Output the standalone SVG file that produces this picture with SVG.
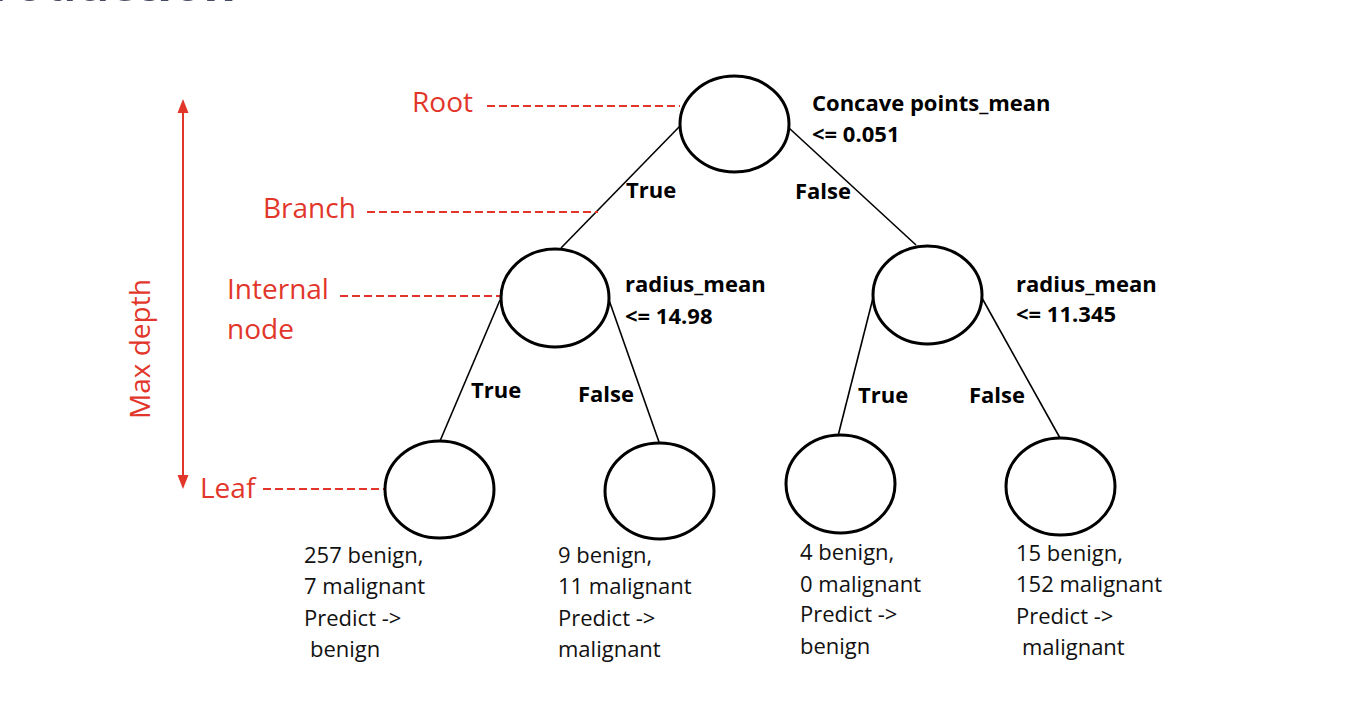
<svg xmlns="http://www.w3.org/2000/svg" width="1358" height="720" viewBox="0 0 1358 720">
<defs>
<style>
.node{fill:#ffffff;stroke:#000000;stroke-width:3}
.edge{stroke:#000000;stroke-width:1.6;fill:none}
.dash{stroke:#e2362b;stroke-width:1.8;stroke-dasharray:8 4;fill:none}
.red{font-family:"Open Sans","Noto Sans",sans-serif;font-size:28px;fill:#e2362b}
.bold{font-family:"Open Sans","Noto Sans",sans-serif;font-size:22px;font-weight:bold;fill:#000000}
.leaf{font-family:"Open Sans","Noto Sans",sans-serif;font-size:22px;fill:#111111}
.title{font-family:"Open Sans","Noto Sans",sans-serif;font-size:50px;font-weight:bold;fill:#474a63}
.head{fill:#e2362b}
</style>
</defs>
<rect width="1358" height="720" fill="#ffffff"/>
<text class="title" x="236" y="0.5" text-anchor="end">Introduction</text>

<g id="connectors">
<line class="edge" x1="680" y1="126" x2="561" y2="248"/>
<line class="edge" x1="789" y1="128" x2="916" y2="245"/>
<line class="edge" x1="500" y1="300" x2="440" y2="441"/>
<line class="edge" x1="609" y1="300" x2="659" y2="442"/>
<line class="edge" x1="873" y1="298" x2="838" y2="436"/>
<line class="edge" x1="982" y1="298" x2="1060" y2="438"/>
</g>

<g id="annotations">
<line x1="183" y1="110" x2="183" y2="478" stroke="#e2362b" stroke-width="2"/>
<polygon class="head" points="183,99 177.5,113 188.5,113"/>
<polygon class="head" points="183,489 177.5,475 188.5,475"/>
<text class="red" transform="translate(150,419) rotate(-90)">Max depth</text>
<text class="red" x="412" y="112">Root</text>
<line class="dash" x1="487" y1="106" x2="680" y2="106"/>
<text class="red" x="263" y="218">Branch</text>
<line class="dash" x1="367" y1="212" x2="598" y2="212"/>
<text class="red" x="227" y="299">Internal</text>
<text class="red" x="227" y="339">node</text>
<line class="dash" x1="340" y1="296" x2="500" y2="296"/>
<text class="red" x="200" y="498">Leaf</text>
<line class="dash" x1="263" y1="489" x2="386" y2="489"/>
</g>

<g id="root">
<ellipse class="node" cx="734.5" cy="124" rx="54.5" ry="48"/>
<text class="bold" x="812" y="111">Concave points_mean</text>
<text class="bold" x="812" y="142">&lt;= 0.051</text>
</g>

<g id="edge-labels">
<text class="bold" x="626" y="198">True</text>
<text class="bold" x="795" y="199">False</text>
<text class="bold" x="471" y="398">True</text>
<text class="bold" x="578" y="402">False</text>
<text class="bold" x="858" y="403">True</text>
<text class="bold" x="969" y="403">False</text>
</g>

<g id="internal-left">
<ellipse class="node" cx="555" cy="298" rx="54" ry="49"/>
<text class="bold" x="625" y="292">radius_mean</text>
<text class="bold" x="625" y="324">&lt;= 14.98</text>
</g>

<g id="internal-right">
<ellipse class="node" cx="927.5" cy="295" rx="54.5" ry="49"/>
<text class="bold" x="1016" y="292">radius_mean</text>
<text class="bold" x="1016" y="322">&lt;= 11.345</text>
</g>

<g id="leaf-1">
<ellipse class="node" cx="439.5" cy="489.5" rx="54.5" ry="48.5"/>
<text class="leaf" x="304" y="563">257 benign,</text>
<text class="leaf" x="304" y="594">7 malignant</text>
<text class="leaf" x="304" y="626">Predict -&gt;</text>
<text class="leaf" x="310" y="657">benign</text>
</g>

<g id="leaf-2">
<ellipse class="node" cx="659.5" cy="491" rx="54.5" ry="48"/>
<text class="leaf" x="558" y="563">9 benign,</text>
<text class="leaf" x="558" y="594">11 malignant</text>
<text class="leaf" x="558" y="626">Predict -&gt;</text>
<text class="leaf" x="558" y="657">malignant</text>
</g>

<g id="leaf-3">
<ellipse class="node" cx="840.5" cy="484" rx="54.5" ry="49"/>
<text class="leaf" x="800" y="560">4 benign,</text>
<text class="leaf" x="800" y="592">0 malignant</text>
<text class="leaf" x="800" y="622">Predict -&gt;</text>
<text class="leaf" x="800" y="654">benign</text>
</g>

<g id="leaf-4">
<ellipse class="node" cx="1060.5" cy="486.5" rx="54.5" ry="48.5"/>
<text class="leaf" x="1016" y="561">15 benign,</text>
<text class="leaf" x="1016" y="592">152 malignant</text>
<text class="leaf" x="1016" y="624">Predict -&gt;</text>
<text class="leaf" x="1022" y="655">malignant</text>
</g>
</svg>
